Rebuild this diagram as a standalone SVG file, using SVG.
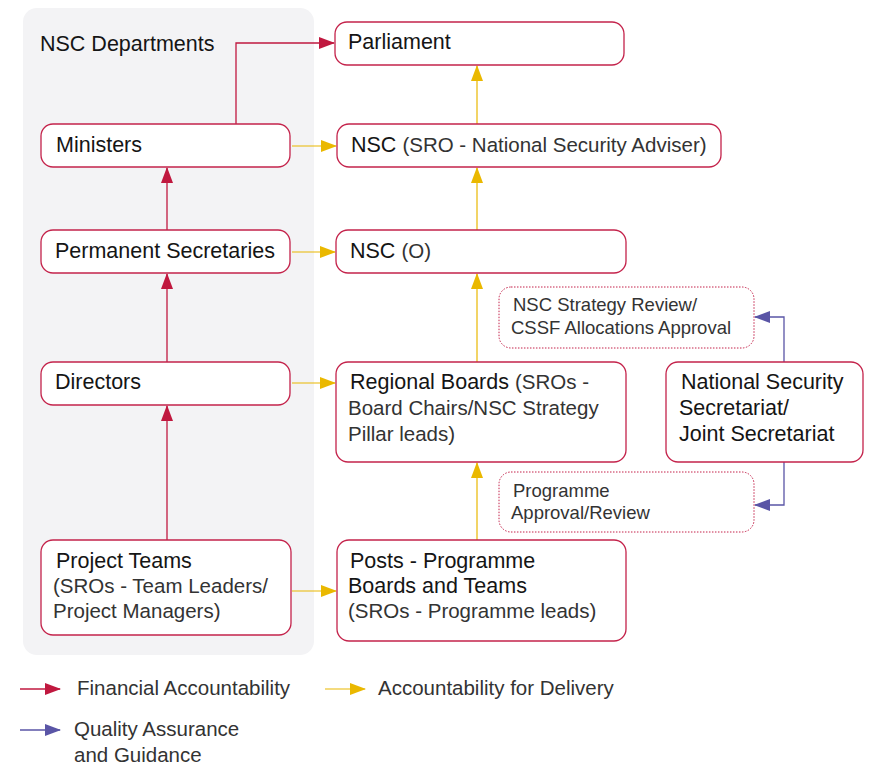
<svg xmlns="http://www.w3.org/2000/svg" width="872" height="765" viewBox="0 0 872 765">
<style>
text{font-family:"Liberation Sans",Arial,sans-serif;font-size:21.5px;fill:#151515}
.b{fill:#fff;stroke:#c4234b;stroke-width:1.3}
.d{fill:#fff;stroke:#c4234b;stroke-width:1;stroke-dasharray:1.5 1.5}
.lt{fill:#333;font-size:20.5px}
.sm{font-size:18.5px;fill:#333}
.r{stroke:#c0183f;stroke-width:1.3;fill:none}
.y{stroke:#eab800;stroke-width:1.2;fill:none}
.u{stroke:#5a55a6;stroke-width:1.3;fill:none}
</style>
<defs>
<marker id="mr" markerWidth="16" markerHeight="12" refX="15" refY="6" orient="auto" markerUnits="userSpaceOnUse"><path d="M0,0L16,6L0,12Z" fill="#c0183f"/></marker>
<marker id="my" markerWidth="16" markerHeight="12" refX="15" refY="6" orient="auto" markerUnits="userSpaceOnUse"><path d="M0,0L16,6L0,12Z" fill="#eab800"/></marker>
<marker id="mu" markerWidth="16" markerHeight="12" refX="15" refY="6" orient="auto" markerUnits="userSpaceOnUse"><path d="M0,0L16,6L0,12Z" fill="#5a55a6"/></marker>
</defs>
<rect x="23" y="8" width="291" height="647" rx="14" fill="#f3f3f5"/>
<text x="40" y="51">NSC Departments</text>

<g id="connectors">
<path class="r" d="M236,124V43H334" marker-end="url(#mr)"/>
<path class="y" d="M477,124V66" marker-end="url(#my)"/>
<path class="y" d="M292,146H336" marker-end="url(#my)"/>
<path class="r" d="M167,230V168" marker-end="url(#mr)"/>
<path class="y" d="M292,252H335" marker-end="url(#my)"/>
<path class="y" d="M477,230V168" marker-end="url(#my)"/>
<path class="r" d="M167,362V274" marker-end="url(#mr)"/>
<path class="y" d="M292,383H335" marker-end="url(#my)"/>
<path class="y" d="M477,362V274" marker-end="url(#my)"/>
<path class="r" d="M167,540V406" marker-end="url(#mr)"/>
<path class="y" d="M292,591H336" marker-end="url(#my)"/>
<path class="y" d="M477,540V463" marker-end="url(#my)"/>
<path class="u" d="M784,362V317H755" marker-end="url(#mu)"/>
<path class="u" d="M784,462V505H755" marker-end="url(#mu)"/>
</g>

<g id="parliament"><rect class="b" x="335" y="22" width="289" height="43" rx="12"/><text x="348" y="49">Parliament</text></g>
<g id="nsc-sro"><rect class="b" x="337" y="124" width="384" height="43" rx="12"/><text x="351" y="152">NSC <tspan class="lt">(SRO - National Security Adviser)</tspan></text></g>
<g id="nsc-o"><rect class="b" x="336" y="230" width="290" height="43" rx="12"/><text x="350" y="258">NSC <tspan class="lt">(O)</tspan></text></g>
<g id="ministers"><rect class="b" x="41" y="124" width="249" height="43" rx="12"/><text x="56" y="152">Ministers</text></g>
<g id="permsec"><rect class="b" x="41" y="230" width="249" height="43" rx="12"/><text x="55" y="258">Permanent Secretaries</text></g>
<g id="directors"><rect class="b" x="41" y="362" width="249" height="43" rx="12"/><text x="55" y="389">Directors</text></g>
<g id="regional"><rect class="b" x="336" y="362" width="290" height="100" rx="12"/><text x="350" y="389">Regional Boards <tspan class="lt">(SROs -</tspan></text><text x="348" y="415" class="lt">Board Chairs/NSC Strategy</text><text x="348" y="441" class="lt">Pillar leads)</text></g>
<g id="nss"><rect class="b" x="666" y="362" width="197" height="100" rx="12"/><text x="681" y="389">National Security</text><text x="679" y="415">Secretariat/</text><text x="679" y="441">Joint Secretariat</text></g>
<g id="project"><rect class="b" x="41" y="540" width="250" height="95" rx="12"/><text x="56" y="568">Project Teams</text><text x="53" y="593" class="lt">(SROs - Team Leaders/</text><text x="53" y="618" class="lt">Project Managers)</text></g>
<g id="posts"><rect class="b" x="337" y="540" width="289" height="101" rx="12"/><text x="350" y="568">Posts - Programme</text><text x="348" y="593">Boards and Teams</text><text x="348" y="618" class="lt">(SROs - Programme leads)</text></g>
<g id="review"><rect class="d" x="499" y="287" width="255" height="61" rx="12"/><text x="513" y="311" class="sm">NSC Strategy Review/</text><text x="511" y="334" class="sm">CSSF Allocations Approval</text></g>
<g id="approval"><rect class="d" x="499" y="472" width="255" height="60" rx="12"/><text x="513" y="497" class="sm">Programme</text><text x="511" y="519" class="sm">Approval/Review</text></g>

<g id="legend">
<path class="r" d="M20,689H60" marker-end="url(#mr)"/>
<text x="77" y="695" class="lt">Financial Accountability</text>
<path class="y" d="M325,689H365" marker-end="url(#my)"/>
<text x="378" y="695" class="lt">Accountability for Delivery</text>
<path class="u" d="M20,730H60" marker-end="url(#mu)"/>
<text x="74" y="736" class="lt">Quality Assurance</text>
<text x="74" y="762" class="lt">and Guidance</text>
</g>
</svg>
